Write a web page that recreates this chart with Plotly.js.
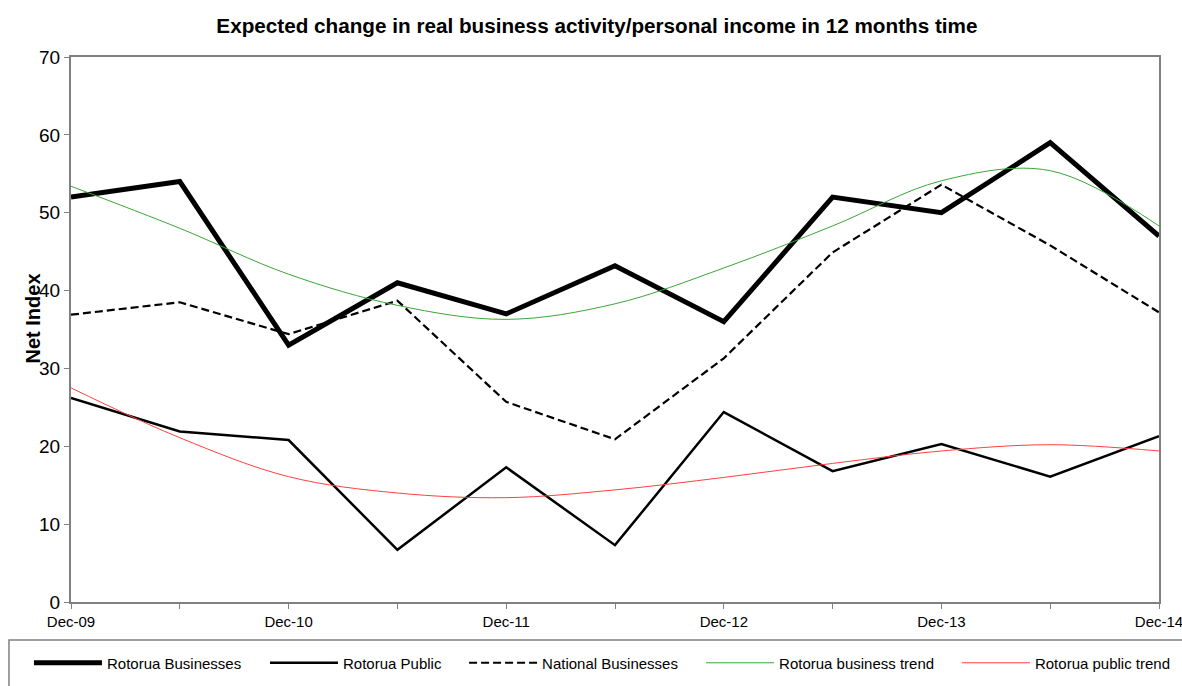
<!DOCTYPE html>
<html>
<head>
<meta charset="utf-8">
<script src="https://cdn.plot.ly/plotly-3.0.1.min.js"></script>
<style>html,body{margin:0;padding:0;background:#fff;}#chart{width:1182px;height:686px;}</style>
</head>
<body>
<div id="chart"></div>
<script>
const categories = ['Dec-09','Jun-10','Dec-10','Jun-11','Dec-11','Jun-12','Dec-12','Jun-13','Dec-13','Jun-14','Dec-14'];
const tickLabels = ['Dec-09','','Dec-10','','Dec-11','','Dec-12','','Dec-13','','Dec-14'];
const rotoruaBusinesses = [52, 54, 33, 41, 37, 43.2, 36, 52, 50, 59, 47];
const rotoruaPublic = [26.2, 21.9, 20.8, 6.7, 17.3, 7.3, 24.4, 16.8, 20.3, 16.1, 21.3];
const nationalBusinesses = [36.9, 38.5, 34.4, 38.7, 25.7, 20.9, 31.3, 44.9, 53.6, 45.8, 37.2];
const businessTrend = [53.4, 48.0, 42.1, 38.1, 36.3, 38.3, 42.9, 48.3, 54.1, 55.4, 48.3];
const publicTrend = [27.5, 21.1, 16.1, 14.0, 13.4, 14.4, 16.0, 17.8, 19.4, 20.2, 19.4];

const narrow = '"Liberation Sans Narrow", "Arial Narrow", "Liberation Sans", Arial, sans-serif';
const regular = '"Liberation Sans", Arial, sans-serif';

const traces = [
  {x: categories, y: rotoruaBusinesses, name: 'Rotorua Businesses', mode: 'lines', legend: 'legend', line: {color: '#000', width: 5}},
  {x: categories, y: rotoruaPublic, name: 'Rotorua Public', mode: 'lines', legend: 'legend2', line: {color: '#000', width: 2.5}},
  {x: categories, y: nationalBusinesses, name: 'National Businesses', mode: 'lines', legend: 'legend3', line: {color: '#000', width: 2.2, dash: '8px,4px'}},
  {x: categories, y: businessTrend, name: 'Rotorua business trend', mode: 'lines', legend: 'legend4', line: {color: '#3aa63a', width: 1, shape: 'spline'}},
  {x: categories, y: publicTrend, name: 'Rotorua public trend', mode: 'lines', legend: 'legend5', line: {color: '#ff4040', width: 1, shape: 'spline'}}
];

function leg(xc) {
  return {
    orientation: 'h', xref: 'container', yref: 'container',
    x: xc, xanchor: 'left', y: 0.0335, yanchor: 'middle',
    font: {family: narrow, size: 15, color: '#000'},
    bgcolor: 'rgba(0,0,0,0)', borderwidth: 0, itemwidth: 68
  };
}

const layout = {
  width: 1182, height: 686,
  margin: {l: 71, r: 23, t: 57, b: 84},
  paper_bgcolor: '#fff', plot_bgcolor: '#fff',
  showlegend: true,
  title: {text: 'Expected change in real business activity/personal income in 12 months time',
          font: {family: narrow, size: 20.7, color: '#000', weight: 'bold'},
          x: 0.505, xanchor: 'center', y: 0.962, yanchor: 'middle'},
  xaxis: {
    type: 'category', range: [0, 10],
    tickvals: categories, ticktext: tickLabels,
    showgrid: false, zeroline: false,
    showline: true, linecolor: '#808080', linewidth: 2, mirror: true,
    ticks: 'outside', ticklen: 5, tickcolor: '#808080', tickwidth: 1,
    tickfont: {family: narrow, size: 15, color: '#000'}
  },
  yaxis: {
    range: [0, 70], dtick: 10,
    showgrid: false, zeroline: false,
    showline: true, linecolor: '#808080', linewidth: 2, mirror: true,
    ticks: 'outside', ticklen: 5, tickcolor: '#808080', tickwidth: 1,
    tickfont: {family: regular, size: 19, color: '#000'}
  },
  annotations: [{
    text: 'Net Index', textangle: -90, showarrow: false,
    xref: 'paper', yref: 'paper', x: -0.035, y: 0.52, xanchor: 'center', yanchor: 'middle',
    font: {family: narrow, size: 20, color: '#000', weight: 'bold'}
  }],
  shapes: [{
    type: 'rect', xref: 'paper', yref: 'paper',
    x0: -0.057, x1: 1.03, y0: -0.0697, y1: -0.17,
    line: {color: '#808080', width: 1.5}, fillcolor: 'rgba(0,0,0,0)'
  }],
  legend: leg(0.0245),
  legend2: leg(0.2242),
  legend3: leg(0.3926),
  legend4: leg(0.5931),
  legend5: leg(0.8096)
};

Plotly.newPlot('chart', traces, layout, {displayModeBar: false, staticPlot: true});
</script>
</body>
</html>
